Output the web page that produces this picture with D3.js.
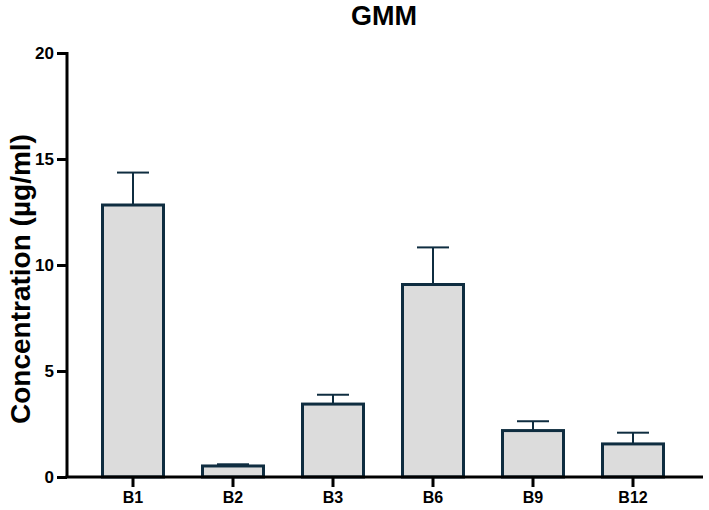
<!DOCTYPE html>
<html>
<head>
<meta charset="utf-8">
<script src="https://cdn.jsdelivr.net/npm/d3@7"></script>
<style>
  body { margin: 0; background: #fff; }
  text { font-family: "Liberation Sans", Arial, sans-serif; font-weight: bold; }
</style>
</head>
<body>
<script>
// Data
const groups = ['B1', 'B2', 'B3', 'B6', 'B9', 'B12'];
const means = [12.83, 0.52, 3.44, 9.08, 2.19, 1.56];
const errUpper = [14.36, 0.6, 3.88, 10.83, 2.63, 2.09];
const yTicks = [0, 5, 10, 15, 20];

const width = 709, height = 510;

const svg = d3.select("body").append("svg")
    .attr("width", width)
    .attr("height", height);

// Scales
const x = d3.scaleBand()
    .domain(groups)
    .range([83, 683])
    .paddingInner(0.36)
    .paddingOuter(0.18);

const y = d3.scaleLinear()
    .domain([0, 20])
    .range([477, 53]);

const barColor = "#dcdcdc";
const lineColor = "#0f2d40";

// Error bars (upper only)
const err = svg.append("g");
groups.forEach((g, i) => {
    const cx = x(g) + x.bandwidth() / 2;
    err.append("line")
        .attr("x1", cx).attr("x2", cx)
        .attr("y1", y(means[i])).attr("y2", y(errUpper[i]))
        .attr("stroke", lineColor).attr("stroke-width", 2);
    err.append("line")
        .attr("x1", cx - 16).attr("x2", cx + 16)
        .attr("y1", y(errUpper[i])).attr("y2", y(errUpper[i]))
        .attr("stroke", lineColor).attr("stroke-width", 2);
});

// Bars
svg.append("g").selectAll("rect")
    .data(groups)
    .enter().append("rect")
    .attr("x", d => x(d) + 1.5)
    .attr("width", x.bandwidth() - 3)
    .attr("y", (d, i) => y(means[i]))
    .attr("height", (d, i) => y(0) - y(means[i]))
    .attr("fill", barColor)
    .attr("stroke", lineColor)
    .attr("stroke-width", 3);

// Y axis
const yAxis = svg.append("g")
    .attr("transform", "translate(67,0)")
    .call(d3.axisLeft(y).tickValues(yTicks).tickSize(10).tickPadding(3));
yAxis.select(".domain").attr("stroke", "#000").attr("stroke-width", 3)
    .attr("d", `M0,${y(20) - 1}V${y(0)}`);
yAxis.selectAll(".tick line").attr("stroke", "#000").attr("stroke-width", 3);
yAxis.selectAll(".tick text").attr("font-size", 17).attr("fill", "#000")
    .style("font-weight", "bold");

// X axis
const xAxis = svg.append("g")
    .attr("transform", `translate(0,${y(0)})`)
    .call(d3.axisBottom(x).tickSize(10).tickPadding(5));
xAxis.select(".domain").attr("stroke", "#000").attr("stroke-width", 3)
    .attr("d", `M65.5,0H703`);
xAxis.selectAll(".tick line").attr("stroke", "#000").attr("stroke-width", 3);
xAxis.selectAll(".tick text").attr("font-size", 16).attr("fill", "#000")
    .style("font-weight", "bold");

// Title
svg.append("text")
    .attr("x", 384).attr("y", 25)
    .attr("text-anchor", "middle")
    .attr("font-size", 27)
    .text("GMM");

// Y label
svg.append("text")
    .attr("transform", `translate(30,${(y(0) + y(20)) / 2 + 14}) rotate(-90)`)
    .attr("text-anchor", "middle")
    .attr("font-size", 28)
    .text("Concentration (µg/ml)");
</script>
</body>
</html>
